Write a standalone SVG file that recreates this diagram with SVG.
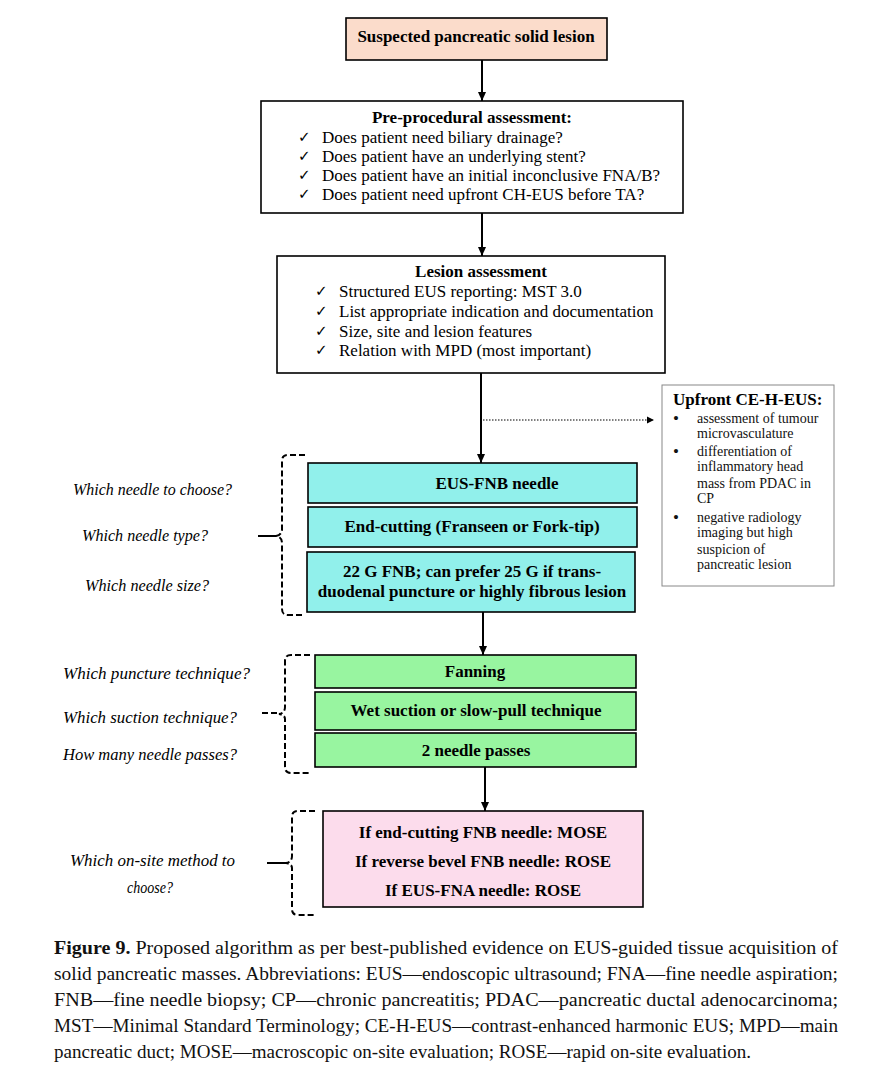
<svg xmlns="http://www.w3.org/2000/svg" width="890" height="1082" viewBox="0 0 890 1082">
<style>
  .box { stroke:#000; stroke-width:1.6; }
  .t { font-family:"Liberation Serif","Times New Roman",serif; font-size:17px; fill:#000; }
  .b { font-weight:bold; }
  .c { text-anchor:middle; }
  .ck { font-family:"DejaVu Sans",sans-serif; font-size:15px; }
  .sm { font-family:"Liberation Serif","Times New Roman",serif; font-size:14px; fill:#111; }
  .bul { font-family:"Liberation Serif","Times New Roman",serif; font-size:17px; fill:#111; }
  .q { font-family:"Liberation Serif","Times New Roman",serif; font-style:italic; font-size:17px; fill:#000; }
  .cap { font-family:"Liberation Serif","Times New Roman",serif; font-size:18px; fill:#111; }
  .conn { stroke:#000; stroke-width:2; fill:none; }
  .br { stroke:#000; stroke-width:2; fill:none; stroke-dasharray:6 3; }
  .nub { stroke:#000; stroke-width:2; fill:none; }
</style>
<defs>
  <marker id="ah" markerWidth="10" markerHeight="10" refX="9" refY="5" orient="auto" markerUnits="userSpaceOnUse">
    <path d="M0,1 L9,5 L0,9 Z" fill="#000"/>
  </marker>
  <marker id="ahs" markerWidth="8" markerHeight="8" refX="7" refY="4" orient="auto" markerUnits="userSpaceOnUse">
    <path d="M0,0.5 L7,4 L0,7.5 Z" fill="#000"/>
  </marker>
</defs>
<rect width="890" height="1082" fill="#fff"/>

<g id="connectors">
  <line class="conn" x1="482" y1="60" x2="482" y2="101" marker-end="url(#ah)"/>
  <line class="conn" x1="482" y1="213" x2="482" y2="256" marker-end="url(#ah)"/>
  <line class="conn" x1="481" y1="373" x2="481" y2="463" marker-end="url(#ah)"/>
  <line class="conn" x1="483" y1="612" x2="483" y2="655" marker-end="url(#ah)"/>
  <line class="conn" x1="485" y1="767" x2="485" y2="811" marker-end="url(#ah)"/>
  <line x1="483" y1="420" x2="654" y2="420" stroke="#000" stroke-width="1.2" stroke-dasharray="1.5 1.5" marker-end="url(#ahs)"/>
</g>

<g id="n-suspected">
  <rect class="box" x="346" y="18" width="261" height="42" fill="#fbdccb"/>
  <text class="t b c" x="476" y="42">Suspected pancreatic solid lesion</text>
</g>

<g id="n-preprocedural">
  <rect class="box" x="261" y="101" width="422" height="112" fill="#fff"/>
  <text class="t b c" x="472" y="123">Pre-procedural assessment:</text>
  <text class="ck" x="298" y="142">✓</text>
  <text class="t" x="322" y="143">Does patient need biliary drainage?</text>
  <text class="ck" x="298" y="161">✓</text>
  <text class="t" x="322" y="162">Does patient have an underlying stent?</text>
  <text class="ck" x="298" y="180">✓</text>
  <text class="t" x="322" y="181">Does patient have an initial inconclusive FNA/B?</text>
  <text class="ck" x="298" y="199">✓</text>
  <text class="t" x="322" y="200">Does patient need upfront CH-EUS before TA?</text>
</g>

<g id="n-lesion">
  <rect class="box" x="277" y="256" width="388" height="117" fill="#fff"/>
  <text class="t b c" x="481" y="277">Lesion assessment</text>
  <text class="ck" x="315" y="296">✓</text>
  <text class="t" x="339" y="297">Structured EUS reporting: MST 3.0</text>
  <text class="ck" x="315" y="316">✓</text>
  <text class="t" x="339" y="317">List appropriate indication and documentation</text>
  <text class="ck" x="315" y="336">✓</text>
  <text class="t" x="339" y="337">Size, site and lesion features</text>
  <text class="ck" x="315" y="355">✓</text>
  <text class="t" x="339" y="356">Relation with MPD (most important)</text>
</g>

<g id="n-upfront">
  <rect x="662" y="385" width="172" height="201" fill="#fff" stroke="#888" stroke-width="1"/>
  <text class="t b" x="673" y="405">Upfront CE-H-EUS:</text>
  <text class="bul" x="673" y="424">•</text>
  <text class="sm" x="697" y="423">assessment of tumour</text>
  <text class="sm" x="697" y="438">microvasculature</text>
  <text class="bul" x="673" y="457">•</text>
  <text class="sm" x="697" y="456">differentiation of</text>
  <text class="sm" x="697" y="471">inflammatory head</text>
  <text class="sm" x="697" y="488">mass from PDAC in</text>
  <text class="sm" x="697" y="503">CP</text>
  <text class="bul" x="673" y="523">•</text>
  <text class="sm" x="697" y="522">negative radiology</text>
  <text class="sm" x="697" y="537">imaging but high</text>
  <text class="sm" x="697" y="554">suspicion of</text>
  <text class="sm" x="697" y="569">pancreatic lesion</text>
</g>

<g id="n-fnb">
  <rect class="box" x="308" y="463" width="329" height="40" fill="#91f0eb"/>
  <text class="t b c" x="497" y="489">EUS-FNB needle</text>
</g>
<g id="n-endcut">
  <rect class="box" x="308" y="507" width="329" height="40" fill="#91f0eb"/>
  <text class="t b c" x="472" y="532">End-cutting (Franseen or Fork-tip)</text>
</g>
<g id="n-size">
  <rect class="box" x="307" y="552" width="328" height="60" fill="#91f0eb"/>
  <text class="t b c" x="472" y="577">22 G FNB; can prefer 25 G if trans-</text>
  <text class="t b c" x="472" y="597">duodenal puncture or highly fibrous lesion</text>
</g>

<g id="n-fanning">
  <rect class="box" x="315" y="655" width="321" height="33" fill="#98f5a0"/>
  <text class="t b c" x="475" y="677">Fanning</text>
</g>
<g id="n-suction">
  <rect class="box" x="315" y="692" width="321" height="38" fill="#98f5a0"/>
  <text class="t b c" x="476" y="716">Wet suction or slow-pull technique</text>
</g>
<g id="n-passes">
  <rect class="box" x="315" y="733" width="321" height="34" fill="#98f5a0"/>
  <text class="t b c" x="476" y="756">2 needle passes</text>
</g>

<g id="n-onsite">
  <rect class="box" x="323" y="811" width="320" height="96" fill="#fcdcec"/>
  <text class="t b c" x="483" y="838">If end-cutting FNB needle: MOSE</text>
  <text class="t b c" x="483" y="867">If reverse bevel FNB needle: ROSE</text>
  <text class="t b c" x="483" y="896">If EUS-FNA needle: ROSE</text>
</g>

<g id="q-needle">
  <path class="br" d="M305,455 L288,455 Q282,455 282,461 L282,529 Q282,535 276,536 Q282,537 282,543 L282,609 Q282,615 288,615 L305,615"/>
  <path class="nub" d="M258,536 L276,536"/>
  <text class="q" x="73" y="495" textLength="159" lengthAdjust="spacingAndGlyphs">Which needle to choose?</text>
  <text class="q" x="82" y="541" textLength="126" lengthAdjust="spacingAndGlyphs">Which needle type?</text>
  <text class="q" x="85" y="591" textLength="124" lengthAdjust="spacingAndGlyphs">Which needle size?</text>
</g>

<g id="q-technique">
  <path class="br" d="M310,655 L291,655 Q285,655 285,661 L285,707 Q285,713 279,714 Q285,715 285,719 L285,767 Q285,773 291,773 L310,773"/>
  <path class="br" d="M262,713 L279,713"/>
  <text class="q" x="63" y="679" textLength="187" lengthAdjust="spacingAndGlyphs">Which puncture technique?</text>
  <text class="q" x="63" y="723" textLength="174" lengthAdjust="spacingAndGlyphs">Which suction technique?</text>
  <text class="q" x="63" y="760" textLength="174" lengthAdjust="spacingAndGlyphs">How many needle passes?</text>
</g>

<g id="q-onsite">
  <path class="br" d="M315,811 L298,811 Q292,811 292,817 L292,856 Q292,862 286,863 Q292,864 292,868 L292,909 Q292,915 298,915 L315,915"/>
  <path class="nub" d="M267,863 L286,863"/>
  <text class="q" x="70" y="866" textLength="165" lengthAdjust="spacingAndGlyphs">Which on-site method to</text>
  <text class="q" x="127" y="893" textLength="46" lengthAdjust="spacingAndGlyphs">choose?</text>
</g>

<g id="caption">
  <text class="cap" x="54" y="954" textLength="784" lengthAdjust="spacingAndGlyphs"><tspan font-weight="bold">Figure 9.</tspan> Proposed algorithm as per best-published evidence on EUS-guided tissue acquisition of</text>
  <text class="cap" x="54" y="980" textLength="784" lengthAdjust="spacingAndGlyphs">solid pancreatic masses. Abbreviations: EUS—endoscopic ultrasound; FNA—fine needle aspiration;</text>
  <text class="cap" x="54" y="1006" textLength="784" lengthAdjust="spacingAndGlyphs">FNB—fine needle biopsy; CP—chronic pancreatitis; PDAC—pancreatic ductal adenocarcinoma;</text>
  <text class="cap" x="54" y="1032" textLength="784" lengthAdjust="spacingAndGlyphs">MST—Minimal Standard Terminology; CE-H-EUS—contrast-enhanced harmonic EUS; MPD—main</text>
  <text class="cap" x="54" y="1058" textLength="697" lengthAdjust="spacingAndGlyphs">pancreatic duct; MOSE—macroscopic on-site evaluation; ROSE—rapid on-site evaluation.</text>
</g>
</svg>
